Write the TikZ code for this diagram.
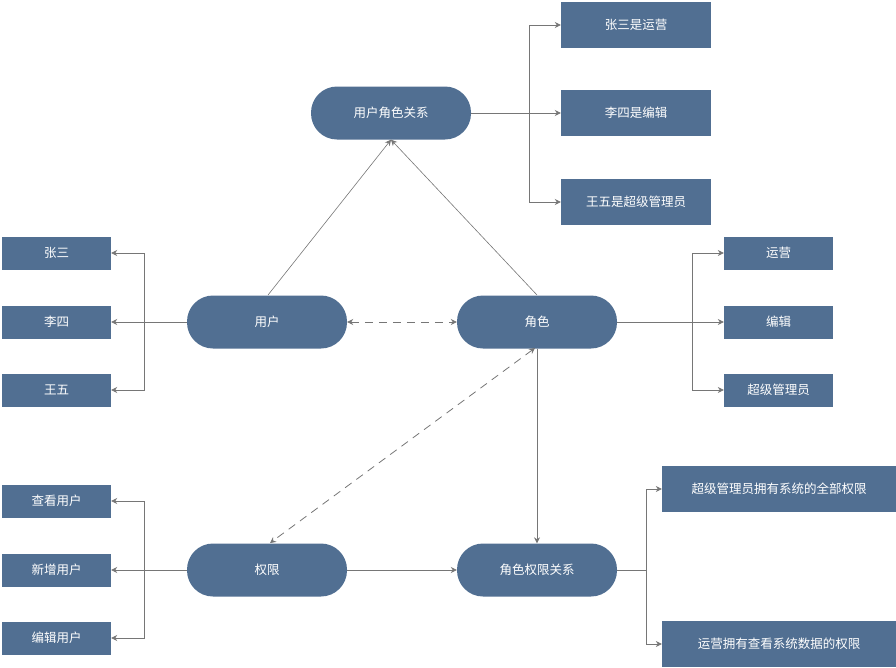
\documentclass[tikz,border=0pt]{standalone}
\usepackage{fontspec}
\setmainfont{Noto Sans CJK SC}
\usetikzlibrary{arrows.meta}
\definecolor{boxblue}{HTML}{516F92}
\definecolor{linegray}{HTML}{767676}
\begin{document}
\begin{tikzpicture}[x=1pt,y=-1pt,
  lbl/.style={text=white,inner sep=0pt,font=\fontsize{12.5}{15}\selectfont},
  pill/.style={lbl,fill=boxblue,rounded corners=26pt,minimum width=160pt,minimum height=53pt},
  sbox/.style={lbl,fill=boxblue,minimum width=109pt,minimum height=33pt},
  mbox/.style={lbl,fill=boxblue,minimum width=150pt,minimum height=46pt},
  lbox/.style={lbl,fill=boxblue,minimum width=234pt,minimum height=46pt},
  conn/.style={draw=linegray,line width=0.8pt,-{Stealth[length=6pt,width=6pt]}},
  thin/.style={draw=linegray,line width=0.6pt,-{Stealth[length=6pt,width=6pt]}},
  dconn/.style={draw=linegray,line width=0.8pt,dash pattern=on 8pt off 6pt,{Stealth[length=6pt,width=6pt]}-{Stealth[length=6pt,width=6pt]}}]
\useasboundingbox (0,0) rectangle (896,667);

% main pills
\node[pill] (urr) at (391,113) {用户角色关系};
\node[pill] (user) at (267,322) {用户};
\node[pill] (role) at (537,322) {角色};
\node[pill] (perm) at (267,570) {权限};
\node[pill] (rpr) at (537,570) {角色权限关系};

% user-role relation boxes
\node[mbox] (r1) at (636,25) {张三是运营};
\node[mbox] (r2) at (636,113) {李四是编辑};
\node[mbox] (r3) at (636,202) {王五是超级管理员};

% users
\node[sbox] (u1) at (56.5,253) {张三};
\node[sbox] (u2) at (56.5,322) {李四};
\node[sbox] (u3) at (56.5,390) {王五};

% roles
\node[sbox] (o1) at (778.5,253) {运营};
\node[sbox] (o2) at (778.5,322) {编辑};
\node[sbox] (o3) at (778.5,390) {超级管理员};

% permissions
\node[sbox] (p1) at (56.5,501) {查看用户};
\node[sbox] (p2) at (56.5,570) {新增用户};
\node[sbox] (p3) at (56.5,638) {编辑用户};

% role-permission relations
\node[lbox] (q1) at (779,489) {超级管理员拥有系统的全部权限};
\node[lbox] (q2) at (779,644) {运营拥有查看系统数据的权限};

% junctions
\coordinate (ja) at (529,113);
\coordinate (jb) at (144,322);
\coordinate (jc) at (692,322);
\coordinate (jd) at (144,570);
\coordinate (je) at (646,570);
\coordinate (us) at (268,295);
\coordinate (rs) at (537,295);
\coordinate (pt) at (270,543);
\coordinate (rb) at (535,348);

% diagonals to user-role relation
\draw[thin] (us) -- (urr.south);
\draw[thin] (rs) -- (urr.south);

% user-role relation fan-out
\draw[draw=linegray,line width=0.8pt] (urr.east) -- (ja);
\draw[conn] (ja) |- (r1.west);
\draw[conn] (ja) -- (r2.west);
\draw[conn] (ja) |- (r3.west);

% user fan-out
\draw[draw=linegray,line width=0.8pt] (user.west) -- (jb);
\draw[conn] (jb) |- (u1.east);
\draw[conn] (jb) -- (u2.east);
\draw[conn] (jb) |- (u3.east);

% role fan-out
\draw[draw=linegray,line width=0.8pt] (role.east) -- (jc);
\draw[conn] (jc) |- (o1.west);
\draw[conn] (jc) -- (o2.west);
\draw[conn] (jc) |- (o3.west);

% permission fan-out
\draw[draw=linegray,line width=0.8pt] (perm.west) -- (jd);
\draw[conn] (jd) |- (p1.east);
\draw[conn] (jd) -- (p2.east);
\draw[conn] (jd) |- (p3.east);

% role-permission relation fan-out
\draw[draw=linegray,line width=0.8pt] (rpr.east) -- (je);
\draw[conn] (je) |- (q1.west);
\draw[conn] (je) |- (q2.west);

% user <-> role dashed
\draw[dconn] (user.east) -- (role.west);
% role <-> permission dashed
\draw[dconn] (rb) -- (pt);
% role -> role-permission relation
\draw[conn] (role.south) -- (rpr.north);
% permission -> role-permission relation
\draw[conn] (perm.east) -- (rpr.west);
\end{tikzpicture}
\end{document}
